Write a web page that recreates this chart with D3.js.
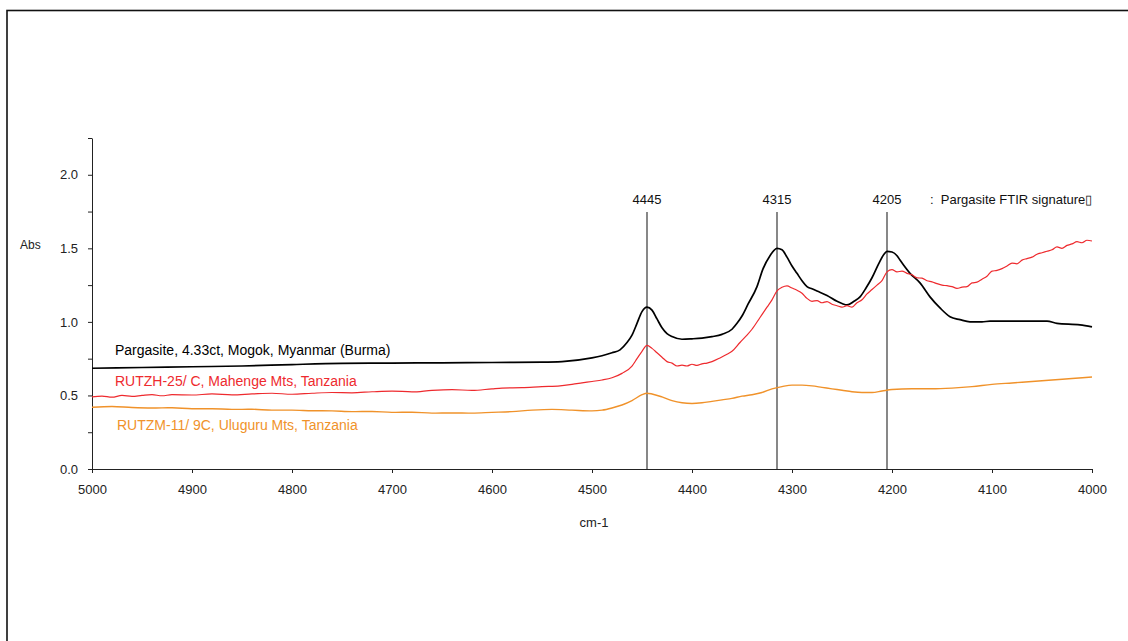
<!DOCTYPE html>
<html>
<head>
<meta charset="utf-8">
<script src="https://cdn.jsdelivr.net/npm/d3@7/dist/d3.min.js"></script>
<style>
  html, body { margin: 0; padding: 0; background: #fff; }
  svg { display: block; font-family: "Liberation Sans", Arial, sans-serif; }
</style>
</head>
<body>
<svg id="chart" width="1128" height="641"></svg>
<script>
// FTIR absorbance spectra, 5000–4000 cm-1

// Pargasite, 4.33ct, Mogok, Myanmar (Burma)
const pargasiteWn  = [5000,4950,4900,4850,4800,4750,4700,4650,4600,4550,4530,4500,4490,4480,4472,4465,4460,4455,4450,4445,4440,4435,4430,4425,4420,4410,4400,4390,4380,4370,4360,4355,4350,4344,4335,4329,4322,4315,4310,4305,4300,4295,4290,4285,4280,4275,4265,4255,4250,4245,4238,4232,4226,4220,4213,4208,4205,4200,4195,4192,4182,4172,4162,4152,4142,4132,4122,4110,4102,4080,4060,4045,4035,4012,4000];
const pargasiteAbs = [0.685,0.69,0.695,0.70,0.71,0.718,0.72,0.722,0.724,0.726,0.73,0.755,0.77,0.79,0.81,0.86,0.91,0.99,1.07,1.10,1.08,1.02,0.96,0.92,0.90,0.882,0.885,0.89,0.90,0.915,0.95,0.99,1.04,1.12,1.24,1.36,1.45,1.50,1.49,1.44,1.38,1.33,1.28,1.24,1.225,1.21,1.18,1.14,1.125,1.115,1.14,1.17,1.23,1.30,1.40,1.46,1.48,1.475,1.45,1.42,1.33,1.265,1.17,1.095,1.035,1.015,1.0,1.0,1.005,1.005,1.005,1.005,0.99,0.98,0.966];

// RUTZH-25/ C, Mahenge Mts, Tanzania
const mahengeWn  = [5000,4990,4980,4970,4960,4950,4940,4930,4920,4900,4880,4860,4840,4820,4800,4780,4760,4740,4720,4700,4680,4660,4640,4620,4600,4590,4570,4550,4532,4520,4510,4500,4490,4480,4470,4460,4455,4450,4445,4440,4435,4430,4425,4420,4415,4410,4405,4400,4395,4390,4385,4380,4372,4365,4360,4352,4345,4340,4332,4325,4320,4315,4310,4305,4300,4295,4290,4285,4280,4275,4270,4265,4260,4255,4250,4245,4240,4235,4230,4225,4220,4215,4210,4205,4200,4195,4190,4185,4180,4175,4170,4165,4160,4155,4150,4145,4140,4135,4130,4125,4120,4115,4110,4105,4100,4095,4090,4085,4080,4075,4070,4065,4060,4055,4050,4045,4040,4035,4030,4025,4020,4015,4010,4005,4000];
const mahengeAbs = [0.49,0.495,0.488,0.50,0.494,0.50,0.505,0.498,0.505,0.503,0.51,0.504,0.51,0.515,0.508,0.515,0.52,0.518,0.525,0.53,0.524,0.535,0.54,0.534,0.545,0.55,0.553,0.56,0.565,0.575,0.585,0.595,0.605,0.62,0.65,0.70,0.75,0.80,0.84,0.82,0.79,0.76,0.73,0.72,0.70,0.706,0.70,0.712,0.704,0.715,0.72,0.73,0.755,0.78,0.80,0.86,0.91,0.95,1.03,1.10,1.15,1.21,1.235,1.245,1.23,1.215,1.195,1.16,1.14,1.145,1.13,1.138,1.12,1.11,1.10,1.11,1.10,1.13,1.15,1.19,1.22,1.25,1.28,1.34,1.355,1.34,1.345,1.33,1.32,1.30,1.297,1.28,1.272,1.26,1.25,1.246,1.24,1.228,1.236,1.24,1.265,1.27,1.29,1.31,1.345,1.35,1.362,1.38,1.40,1.395,1.42,1.43,1.44,1.46,1.47,1.48,1.49,1.51,1.50,1.52,1.53,1.545,1.538,1.555,1.55];

// RUTZM-11/ 9C, Uluguru Mts, Tanzania
const uluguruWn  = [5000,4980,4960,4940,4920,4900,4880,4860,4840,4820,4800,4780,4760,4740,4720,4700,4680,4660,4640,4620,4600,4580,4560,4540,4520,4500,4490,4480,4470,4460,4450,4445,4440,4430,4420,4410,4400,4390,4380,4370,4360,4350,4340,4330,4320,4310,4300,4290,4280,4270,4260,4250,4240,4230,4220,4210,4200,4180,4160,4140,4120,4100,4080,4060,4040,4020,4000];
const uluguruAbs = [0.42,0.425,0.418,0.415,0.416,0.41,0.41,0.405,0.406,0.40,0.40,0.396,0.395,0.39,0.391,0.385,0.386,0.38,0.381,0.38,0.385,0.39,0.40,0.405,0.40,0.395,0.40,0.415,0.435,0.465,0.505,0.515,0.51,0.49,0.465,0.45,0.445,0.45,0.46,0.47,0.48,0.495,0.505,0.52,0.545,0.56,0.57,0.57,0.565,0.555,0.545,0.535,0.525,0.52,0.52,0.53,0.54,0.545,0.545,0.55,0.56,0.575,0.585,0.595,0.605,0.615,0.625];

const seriesNames  = ["Pargasite, 4.33ct, Mogok, Myanmar (Burma)", "RUTZH-25/ C, Mahenge Mts, Tanzania", "RUTZM-11/ 9C, Uluguru Mts, Tanzania"];
const seriesColors = ["#000000", "#ee2a2e", "#f0922a"];

// Characteristic pargasite bands
const markerWn = [4445, 4315, 4205];
const markerNote = ":  Pargasite FTIR signature\u25AF";

const xTicks = [5000, 4900, 4800, 4700, 4600, 4500, 4400, 4300, 4200, 4100, 4000];
const yTicks = [0, 0.25, 0.5, 0.75, 1.0, 1.25, 1.5, 1.75, 2.0, 2.25];
const yLabeled = [0, 0.5, 1.0, 1.5, 2.0];

const svg = d3.select("#chart");

// outer frame
svg.append("rect")
  .attr("x", 7).attr("y", 10.5)
  .attr("width", 1300).attr("height", 800)
  .attr("fill", "none").attr("stroke", "#111").attr("stroke-width", 1.6);

const x = d3.scaleLinear().domain([5000, 4000]).range([92, 1092]);
const y = d3.scaleLinear().domain([0, 2.25]).range([469, 138]);

// x axis
const xAxis = svg.append("g").attr("transform", `translate(0,${y(0)})`)
  .call(d3.axisBottom(x).tickValues(xTicks).tickSize(4).tickSizeOuter(0).tickPadding(12).tickFormat(d3.format("d")));
xAxis.select(".domain").attr("stroke", "#222").attr("d", `M88,0.5H${x(4000)}`);
xAxis.selectAll(".tick line").attr("stroke", "#222");
xAxis.selectAll(".tick text").attr("font-size", 13).attr("fill", "#222")
  .attr("font-family", "Liberation Sans, Arial, sans-serif");

// y axis
const yAxis = svg.append("g").attr("transform", `translate(${x(5000)},0)`)
  .call(d3.axisLeft(y).tickValues(yTicks).tickSize(4).tickSizeOuter(0).tickPadding(10)
    .tickFormat(d => yLabeled.some(v => Math.abs(v - d) < 1e-9) ? d3.format(".1f")(d) : ""));
yAxis.select(".domain").attr("stroke", "#222");
yAxis.selectAll(".tick line").attr("stroke", "#222");
yAxis.selectAll(".tick text").attr("font-size", 13).attr("fill", "#222")
  .attr("font-family", "Liberation Sans, Arial, sans-serif");

// axis titles
svg.append("text").attr("x", 20).attr("y", 249).attr("font-size", 12).attr("fill", "#222").text("Abs");
svg.append("text").attr("x", x(4500) + 2).attr("y", 527).attr("text-anchor", "middle")
  .attr("font-size", 13).attr("fill", "#222").text("cm-1");

// band marker lines and labels
markerWn.forEach(w => {
  svg.append("line")
    .attr("x1", x(w)).attr("x2", x(w))
    .attr("y1", 212).attr("y2", y(0))
    .attr("stroke", "#555").attr("stroke-width", 1.4);
  svg.append("text")
    .attr("x", x(w)).attr("y", 204).attr("text-anchor", "middle")
    .attr("font-size", 13).attr("fill", "#111").text(w);
});
svg.append("text").attr("x", 930).attr("y", 204).attr("font-size", 13).attr("fill", "#111")
  .attr("xml:space", "preserve").style("white-space", "pre").text(markerNote);

// spectra
const spectra = [
  { wn: pargasiteWn, abs: pargasiteAbs, width: 1.7 },
  { wn: mahengeWn,   abs: mahengeAbs,   width: 1.2 },
  { wn: uluguruWn,   abs: uluguruAbs,   width: 1.4 }
];
const line = d3.line().x(d => x(d[0])).y(d => y(d[1])).curve(d3.curveMonotoneX);
spectra.forEach((s, i) => {
  const pts = s.wn.map((w, k) => [w, s.abs[k]]);
  svg.append("path").datum(pts)
    .attr("d", line)
    .attr("fill", "none")
    .attr("stroke", seriesColors[i])
    .attr("stroke-width", s.width)
    .attr("stroke-linejoin", "round");
});

// series labels
const labelPos = [[115, 355], [115, 386], [117, 430]];
seriesNames.forEach((name, i) => {
  svg.append("text")
    .attr("x", labelPos[i][0]).attr("y", labelPos[i][1])
    .attr("font-size", 14).attr("fill", seriesColors[i])
    .text(name);
});
</script>
</body>
</html>
